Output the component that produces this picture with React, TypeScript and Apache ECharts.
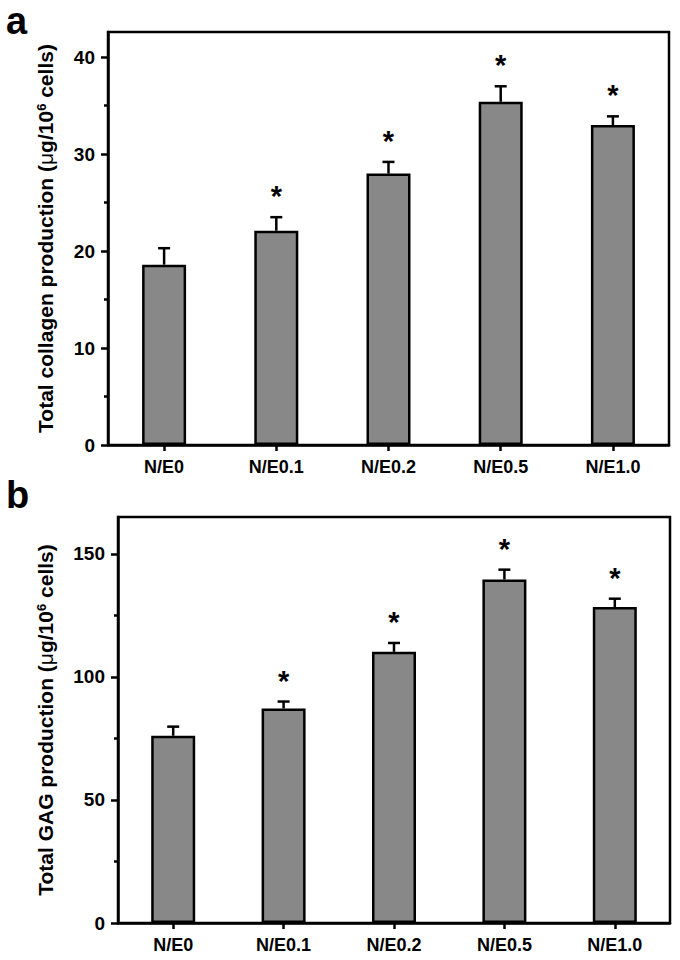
import React, { useEffect, useRef } from "react";
import * as echarts from "echarts";

const categories = ["N/E0", "N/E0.1", "N/E0.2", "N/E0.5", "N/E1.0"];
const collagenMeans = [18.6, 22.1, 28.0, 35.4, 33.0];
const collagenErrors = [1.7, 1.4, 1.2, 1.6, 0.9];
const gagMeans = [76.1, 87.2, 110.2, 139.6, 128.4];
const gagErrors = [3.7, 2.8, 3.6, 4.0, 3.4];
const significant = [false, true, true, true, true];
const collagenTicks = [0, 10, 20, 30, 40];
const gagTicks = [0, 50, 100, 150];

const FONT = "'Liberation Sans', Arial, sans-serif";

function errData(means: number[], errs: number[]) {
  return means.map((m, i) => [i, m, errs[i], significant[i] ? 1 : 0]);
}

function renderErr(params: any, api: any) {
  const idx = api.value(0);
  const mean = api.value(1);
  const err = api.value(2);
  const sig = api.value(3);
  const base = api.coord([idx, mean]);
  const top = api.coord([idx, mean + err]);
  const children: any[] = [
    { type: "line", shape: { x1: base[0], y1: base[1], x2: top[0], y2: top[1] }, style: { stroke: "#000", lineWidth: 2.5 } },
    { type: "line", shape: { x1: top[0] - 6, y1: top[1], x2: top[0] + 6, y2: top[1] }, style: { stroke: "#000", lineWidth: 2.5 } },
  ];
  if (sig) {
    children.push({
      type: "text",
      x: top[0],
      y: top[1] - 21,
      style: { text: "*", fontSize: 29, fontWeight: "bold", fontFamily: FONT, fill: "#000", align: "center", verticalAlign: "middle" },
    });
  }
  return { type: "group", children };
}

function yAxisCfg(gridIndex: number, max: number, ticks: number[], name: string, nameGap: number) {
  return {
    type: "value",
    gridIndex,
    min: 0,
    max,
    interval: ticks[1] - ticks[0],
    name,
    nameLocation: "middle",
    nameGap,
    nameTextStyle: {
      fontSize: 21,
      fontWeight: "bold",
      fontFamily: FONT,
      color: "#000",
      rich: {
        sup: { fontSize: 13, fontWeight: "bold", fontFamily: FONT, color: "#000", verticalAlign: "top", lineHeight: 13 },
        mu: { fontSize: 21, fontWeight: "normal", fontFamily: FONT, color: "#000" },
      },
    },
    axisLine: { show: true, lineStyle: { color: "#000", width: 2.5 } },
    axisTick: { show: true, length: 7, lineStyle: { color: "#000", width: 2.5 }, customValues: ticks },
    minorTick: { show: true, splitNumber: 2, length: 4, lineStyle: { color: "#000", width: 2.5 } },
    axisLabel: { customValues: ticks, fontSize: 19, fontWeight: "bold", fontFamily: FONT, color: "#000", margin: 13 },
    splitLine: { show: false },
    minorSplitLine: { show: false },
  };
}

function xAxisCfg(gridIndex: number) {
  return {
    type: "category",
    gridIndex,
    data: categories,
    axisLine: { show: true, lineStyle: { color: "#000", width: 2.5 } },
    axisTick: { show: true, alignWithLabel: true, length: 6, lineStyle: { color: "#000", width: 2.5 } },
    axisLabel: { fontSize: 18, fontWeight: "bold", fontFamily: FONT, color: "#000", margin: 13 },
    splitLine: { show: false },
  };
}

export default function App() {
  const ref = useRef<HTMLDivElement>(null);
  useEffect(() => {
    document.body.style.margin = "0";
    const chart = echarts.init(ref.current!, null, { renderer: "svg" });
    const barStyle = { color: "#888888", borderColor: "#000", borderWidth: 2.5 };
    chart.setOption({
      animation: false,
      backgroundColor: "#fff",
      grid: [
        { left: 108, top: 32, right: 11, height: 413, show: true, borderColor: "#000", borderWidth: 2.5, backgroundColor: "transparent" },
        { left: 118, top: 517, right: 10, height: 406, show: true, borderColor: "#000", borderWidth: 2.5, backgroundColor: "transparent" },
      ],
      xAxis: [xAxisCfg(0), xAxisCfg(1)],
      yAxis: [
        yAxisCfg(0, 42.6, collagenTicks, "Total collagen production ({mu|μ}g/10{sup|6} cells)", 52),
        yAxisCfg(1, 165, gagTicks, "Total GAG production ({mu|μ}g/10{sup|6} cells)", 62),
      ],
      graphic: [
        { type: "text", left: 6, top: 2, style: { text: "a", fontSize: 38, fontWeight: "bold", fontFamily: FONT, fill: "#000" } },
        { type: "text", left: 6, top: 476, style: { text: "b", fontSize: 38, fontWeight: "bold", fontFamily: FONT, fill: "#000" } },
      ],
      series: [
        { type: "bar", xAxisIndex: 0, yAxisIndex: 0, data: collagenMeans, barWidth: 44, itemStyle: barStyle },
        { type: "custom", xAxisIndex: 0, yAxisIndex: 0, data: errData(collagenMeans, collagenErrors), renderItem: renderErr, z: 3 },
        { type: "bar", xAxisIndex: 1, yAxisIndex: 1, data: gagMeans, barWidth: 44, itemStyle: barStyle },
        { type: "custom", xAxisIndex: 1, yAxisIndex: 1, data: errData(gagMeans, gagErrors), renderItem: renderErr, z: 3 },
      ],
    });
    return () => chart.dispose();
  }, []);
  return <div ref={ref} style={{ width: 680, height: 960 }} />;
}
